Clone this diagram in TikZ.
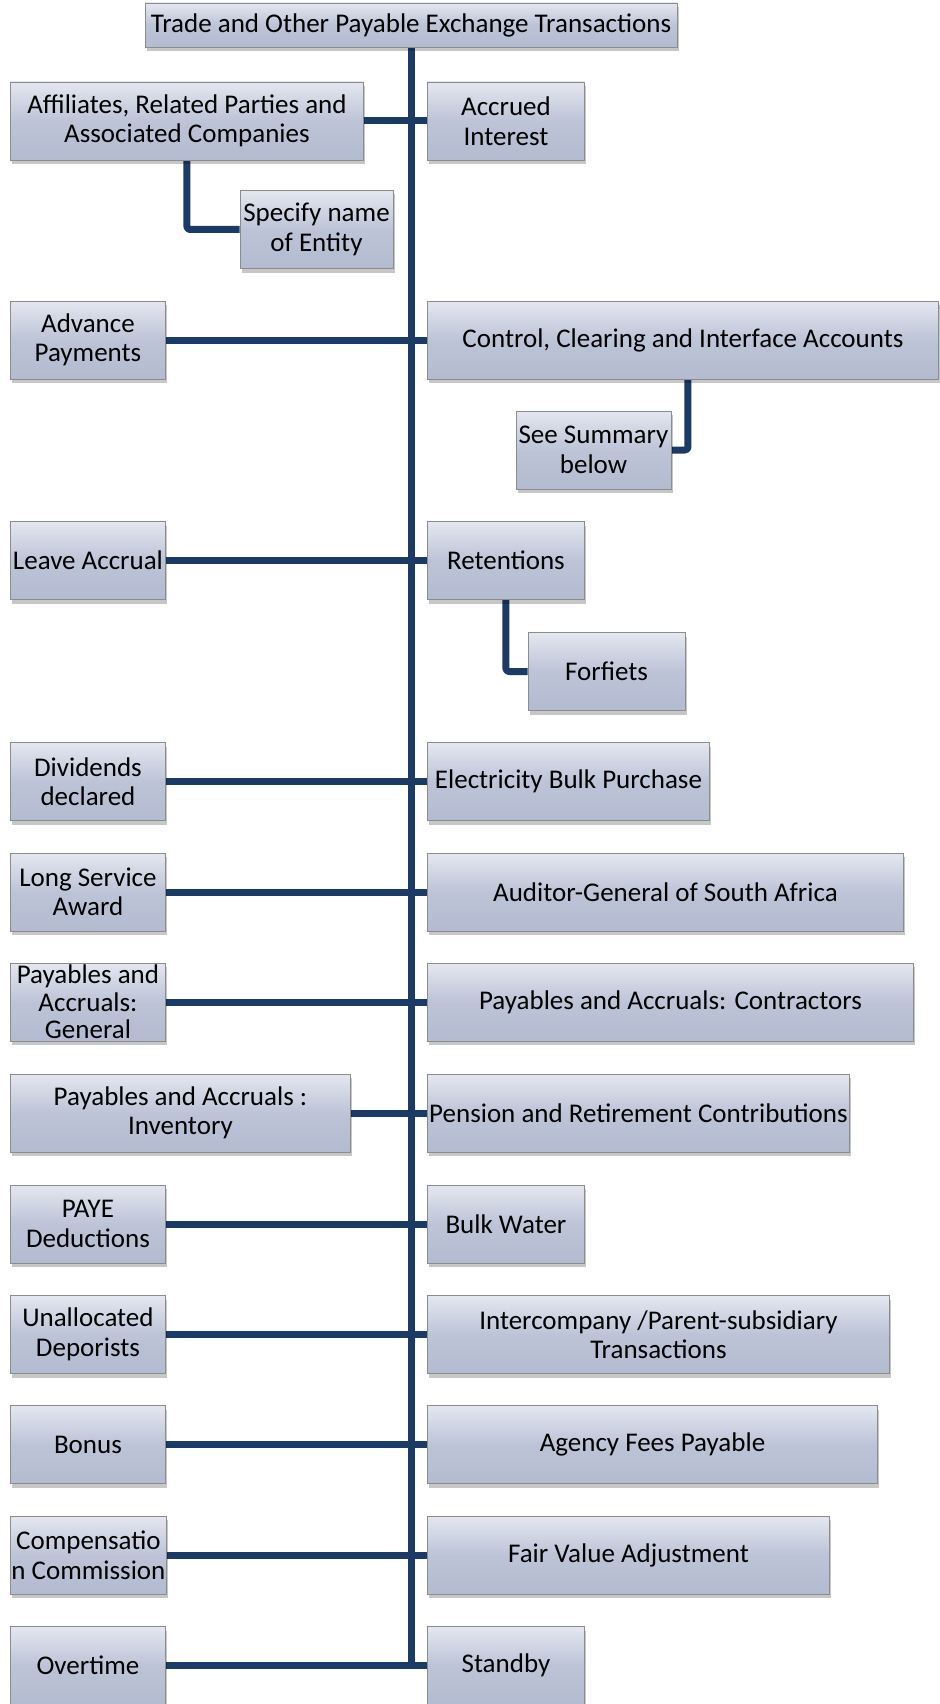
\documentclass[tikz,border=0pt]{standalone}
\usepackage{fontspec}
\setmainfont{Carlito}
\usetikzlibrary{shadows,backgrounds}
\definecolor{navy}{HTML}{1B3A66}
\definecolor{boxtop}{HTML}{E4E7F0}
\definecolor{boxbot}{HTML}{B3BBD1}
\definecolor{boxline}{HTML}{8C8C8C}
\tikzset{
  box/.style={draw=boxline, line width=0.9pt, top color=boxtop, bottom color=boxbot,
    middle color=boxbot!80!boxtop,
    drop shadow={shadow xshift=2pt, shadow yshift=-4pt, fill=black, opacity=0.22},
    minimum height=78pt, inner xsep=1pt, inner ysep=0pt, align=center,
    font=\fontsize{27}{29.5}\selectfont, text=black},
  lbox/.style={box, anchor=west},
  link/.style={draw=navy, line width=7pt, rounded corners=3pt, line join=round}
}
\begin{document}
\begin{tikzpicture}[x=1pt,y=-1pt]
\useasboundingbox (0,0) rectangle (939,1704);

% header
\node[box, minimum width=532pt, minimum height=44pt] (top) at (411,25) {Trade and Other Payable Exchange Transactions};

% left column
\node[lbox, minimum width=353pt] (aff) at (10,121) {Affiliates, Related Parties and\\Associated Companies};
\node[box, minimum width=153pt] (spec) at (316.5,229.5) {Specify name\\of Entity};
\node[lbox, minimum width=155pt] (adv) at (10,340) {Advance\\Payments};
\node[lbox, minimum width=155pt] (leave) at (10,560.5) {Leave Accrual};
\node[lbox, minimum width=155pt] (div) at (10,781.5) {Dividends\\declared};
\node[lbox, minimum width=155pt] (lsa) at (10,892) {Long Service\\Award};
\node[lbox, minimum width=155pt, font=\fontsize{27}{27.5}\selectfont] (pag) at (10,1002) {Payables and\\Accruals:\\General};
\node[lbox, minimum width=340pt] (pai) at (10,1113) {Payables and Accruals :\\Inventory};
\node[lbox, minimum width=155pt] (paye) at (10,1224) {PAYE\\Deductions};
\node[lbox, minimum width=155pt] (unal) at (10,1334.5) {Unallocated\\Deporists};
\node[lbox, minimum width=155pt] (bonus) at (10,1444.5) {Bonus};
\node[lbox, minimum width=155pt] (comp) at (10,1555) {Compensatio\\n Commission};
\node[lbox, minimum width=155pt] (over) at (10,1665.5) {Overtime};

% right column
\node[lbox, minimum width=157pt] (acc) at (427,121) {Accrued\\Interest};
\node[lbox, minimum width=511pt] (ctl) at (427,340) {Control, Clearing and Interface Accounts};
\node[box, minimum width=155pt] (see) at (593.5,450) {See Summary\\below};
\node[lbox, minimum width=157pt] (ret) at (427,560.5) {Retentions};
\node[box, minimum width=157pt] (forf) at (606.5,671.5) {Forfiets};
\node[lbox, minimum width=282pt] (elec) at (427,781.5) {Electricity Bulk Purchase};
\node[lbox, minimum width=476pt] (ag) at (427,892) {Auditor-General of South Africa};
\node[lbox, minimum width=486pt] (pac) at (427,1002) {Payables and Accruals: Contractors};
\node[lbox, minimum width=422pt] (pen) at (427,1113) {Pension and Retirement Contributions};
\node[lbox, minimum width=157pt] (bw) at (427,1224) {Bulk Water};
\node[lbox, minimum width=462pt] (ic) at (427,1334.5) {Intercompany /Parent-subsidiary\\Transactions};
\node[lbox, minimum width=450pt] (afp) at (427,1444.5) {Agency Fees Payable};
\node[lbox, minimum width=402pt] (fva) at (427,1555) {Fair Value Adjustment};
\node[lbox, minimum width=157pt] (sb) at (427,1665.5) {Standby};

% connectors behind the boxes
\begin{scope}[on background layer]
  \draw[link] (top.south) -- (top.south |- over.east);
  \draw[link] (aff.east) -- (acc.west);
  \draw[link] (adv.east) -- (ctl.west);
  \draw[link] (leave.east) -- (ret.west);
  \draw[link] (div.east) -- (elec.west);
  \draw[link] (lsa.east) -- (ag.west);
  \draw[link] (pag.east) -- (pac.west);
  \draw[link] (pai.east) -- (pen.west);
  \draw[link] (paye.east) -- (bw.west);
  \draw[link] (unal.east) -- (ic.west);
  \draw[link] (bonus.east) -- (afp.west);
  \draw[link] (comp.east) -- (fva.west);
  \draw[link] (over.east) -- (sb.west);
  \draw[link] (aff.south) |- (spec.west);
  \draw[link] ([xshift=5pt]ctl.south) |- (see.east);
  \draw[link] (ret.south) |- (forf.west);
\end{scope}
\end{tikzpicture}
\end{document}
